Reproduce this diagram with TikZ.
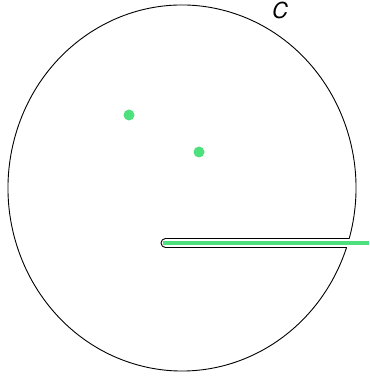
\documentclass[tikz,border=0pt]{standalone}
\usepackage{fontspec}
\setsansfont{TeX Gyre Heros}
\usetikzlibrary{calc}
\definecolor{cutgreen}{RGB}{78,224,124}

\begin{document}
\begin{tikzpicture}[
  x=1pt,y=1pt,
  contour/.style={draw=black,line width=0.9pt,line join=round},
  cut/.style={draw=cutgreen,line width=4.6pt},
  pole/.style={circle,fill=cutgreen,inner sep=0pt,minimum size=11pt}
]
  \useasboundingbox (0,0) rectangle (369,377);

  % Centre of the contour
  \coordinate (O) at (182,189);

  % Keyhole contour: big arc, slot along the cut
  \coordinate (Ctop) at ($(O)+(-16.02:174 and 183)$);
  \coordinate (Cbot) at ($(O)+(-18.97:174 and 183)$);
  \coordinate (Stop) at (165.5,138.5);
  \coordinate (Sbot) at (165.5,129.5);
  \draw[contour]
    (Ctop) arc[start angle=-16.02,end angle=341.03,x radius=174,y radius=183]
    -- (Sbot)
    arc[start angle=270,end angle=90,radius=4.5]
    -- cycle;

  % Branch cut
  \coordinate (cutL) at (163,134);
  \coordinate (cutR) at (369,134);
  \draw[cut] (cutL) -- (cutR);

  % Poles
  \node[pole] (p1) at (129,262) {};
  \node[pole] (p2) at (199,225) {};

  \node[font=\sffamily\itshape\fontsize{22}{22}\selectfont,inner sep=0pt]
    (lab) at (280,366.5) {C};
\end{tikzpicture}
\end{document}
